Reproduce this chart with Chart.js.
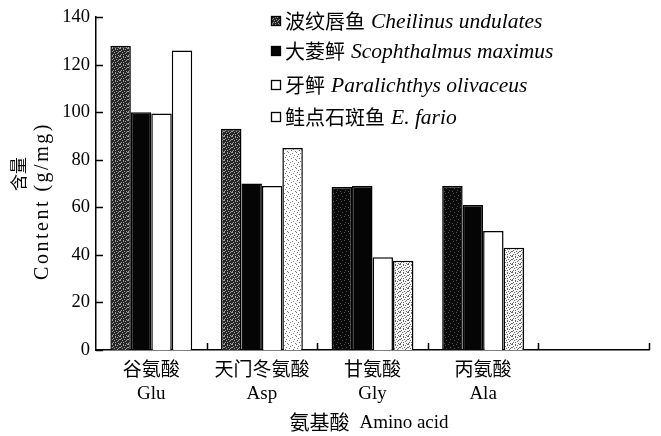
<!DOCTYPE html>
<html><head><meta charset="utf-8">
<script src="https://cdn.jsdelivr.net/npm/chart.js@4"></script>
<style>html,body{margin:0;padding:0;background:#fff;}#wrap{width:661px;height:436px;position:relative;}</style>
</head><body><div id="wrap"><canvas id="c" width="661" height="436" style="width:661px;height:436px"></canvas></div>
<script>
// ---- data ----
const categoriesCn = ['谷氨酸', '天门冬氨酸', '甘氨酸', '丙氨酸', ''];
const categoriesEn = ['Glu', 'Asp', 'Gly', 'Ala', ''];
const seriesCn = ['波纹唇鱼', '大菱鲆', '牙鲆', '鲑点石斑鱼'];
const seriesLatin = ['Cheilinus undulates', 'Scophthalmus maximus', 'Paralichthys olivaceus', 'E. fario'];
const cheilinus = [128, 93, 68.5, 69, null];
const scophthalmus = [100, 70, 69, 61, null];
const paralichthys = [99.5, 69, 39, 50, null];
const efario = [126, 85, 37.5, 43, null];
const yTicks = [0, 20, 40, 60, 80, 100, 120, 140];
const yTitleCn = '含量';
const yTitleEn = 'Content (g/mg)';
const xTitleCn = '氨基酸';
const xTitleEn = 'Amino acid';

// ---- styles ----
const SERIF = '"Liberation Serif", "Times New Roman", "Noto Sans CJK SC", serif';
const CJK = '"Noto Sans CJK SC", "Liberation Serif", sans-serif';
function makePattern(base, dot, tile) {
  const n = tile.length;
  const cv = document.createElement('canvas');
  cv.width = n; cv.height = n;
  const g = cv.getContext('2d');
  g.fillStyle = base; g.fillRect(0, 0, n, n);
  g.fillStyle = dot;
  tile.forEach((row, y) => { for (let x = 0; x < row.length; x++) if (row[x] === '#') g.fillRect(x, y, 1, 1); });
  return g.createPattern(cv, 'repeat');
}
const darkTile = ['#..#...#', '...#.#..', '.#......', '#...#..#', '..#...#.', '.....#..', '.#.#....', '#.....#.'];
const lightTile = ['#.......', '....#...', '..#.....', '......#.', '.#......', '.....#..', '...#....', '.......#'];
const darkPat = makePattern('#262626', '#9c9c9c', darkTile);
const darkerPat = makePattern('#0a0a0a', '#505050', ['#.......', '.....#..', '........', '..#.....', '......#.', '........', '.#......', '....#...']);
const lightPat = makePattern('#ffffff', '#7a7a7a', lightTile);
const lightDensePat = makePattern('#f4f4f4', '#6a6a6a', darkTile);

const s1Fill = [darkPat, darkPat, darkerPat, darkerPat, darkPat];
const s2Fill = '#050505';
const s3Fill = '#ffffff';
const s4Fill = ['#ffffff', lightPat, lightDensePat, lightDensePat, lightPat];

const labels = categoriesCn.map((c, i) => c ? [c, categoriesEn[i]] : '');

const decor = {
  id: 'decor',
  afterDraw(chart) {
    const ctx = chart.ctx;
    const x = chart.scales.x, y = chart.scales.y;
    const ca = chart.chartArea;
    ctx.save();
    ctx.strokeStyle = '#000'; ctx.lineWidth = 1.5;
    yTicks.forEach(v => {
      const py = Math.round(y.getPixelForValue(v)) + 0.5;
      ctx.beginPath(); ctx.moveTo(ca.left, py); ctx.lineTo(ca.left + 7, py); ctx.stroke();
    });
    const n = labels.length;
    const w = (x.getPixelForValue(1) - x.getPixelForValue(0));
    for (let i = 1; i <= n; i++) {
      const px = Math.round(x.getPixelForValue(i - 1) + w / 2) + 0.5;
      ctx.beginPath(); ctx.moveTo(px, ca.bottom); ctx.lineTo(px, ca.bottom - 7); ctx.stroke();
    }
    ctx.fillStyle = '#000';
    ctx.textAlign = 'center'; ctx.textBaseline = 'middle';
    // y title
    ctx.save(); ctx.translate(19, 174); ctx.rotate(-Math.PI / 2);
    ctx.font = '17px ' + CJK; ctx.fillText(yTitleCn, 0, 0); ctx.restore();
    ctx.save(); ctx.translate(43, 201); ctx.rotate(-Math.PI / 2);
    ctx.font = '20px ' + SERIF; ctx.letterSpacing = '2.5px'; ctx.fillText(yTitleEn, 0, 0); ctx.restore();
    // x title
    ctx.textAlign = 'left';
    ctx.font = '20px ' + CJK;
    const w1 = ctx.measureText(xTitleCn).width;
    ctx.font = '19px ' + SERIF;
    const w2 = ctx.measureText(xTitleEn).width;
    const gap = 10;
    const x0 = 369 - (w1 + gap + w2) / 2;
    ctx.font = '20px ' + CJK; ctx.fillText(xTitleCn, x0, 422);
    ctx.font = '19px ' + SERIF; ctx.fillText(xTitleEn, x0 + w1 + gap, 423);
    // legend
    const rows = [21, 51, 85, 117];
    const fills = [darkPat, '#050505', '#ffffff', '#ffffff'];
    chart.data.datasets.forEach((ds, i) => {
      const ry = rows[i];
      ctx.fillStyle = fills[i];
      ctx.fillRect(271, ry - 5, 10, 10);
      ctx.lineWidth = 1.3; ctx.strokeStyle = '#000';
      ctx.strokeRect(271.5, ry - 4.5, 9, 9);
      ctx.fillStyle = '#000';
      ctx.font = '20px ' + CJK;
      ctx.fillText(seriesCn[i], 285, ry);
      const cw = ctx.measureText(seriesCn[i]).width;
      ctx.font = 'italic 21.5px ' + SERIF;
      ctx.fillText(seriesLatin[i], 285 + cw + 6, ry + 1);
    });
    ctx.restore();
  }
};

new Chart(document.getElementById('c'), {
  type: 'bar',
  data: {
    labels: labels,
    datasets: [
      { label: seriesCn[0] + ' ' + seriesLatin[0], data: cheilinus, backgroundColor: s1Fill },
      { label: seriesCn[1] + ' ' + seriesLatin[1], data: scophthalmus, backgroundColor: s2Fill },
      { label: seriesCn[2] + ' ' + seriesLatin[2], data: paralichthys, backgroundColor: s3Fill },
      { label: seriesCn[3] + ' ' + seriesLatin[3], data: efario, backgroundColor: s4Fill }
    ].map(d => Object.assign(d, { borderColor: '#000', borderWidth: 1.5, categoryPercentage: 0.74, barPercentage: 1.0 }))
  },
  options: {
    responsive: false,
    animation: false,
    devicePixelRatio: 1,
    layout: { padding: { top: 17, right: 12, left: 0, bottom: 0 } },
    plugins: { legend: { display: false }, tooltip: { enabled: false }, title: { display: false } },
    scales: {
      x: {
        type: 'category',
        offset: true,
        grid: { display: false, drawTicks: false },
        border: { display: true, color: '#000', width: 1.5 },
        ticks: { color: '#000', font: { family: SERIF, size: 19, lineHeight: 1.22 }, padding: 9, maxRotation: 0, autoSkip: false },
        afterFit(s) { s.height = 86; }
      },
      y: {
        min: 0, max: 140,
        afterBuildTicks(s) { s.ticks = yTicks.map(v => ({ value: v })); },
        grid: { display: false, drawTicks: false },
        border: { display: true, color: '#000', width: 1.5 },
        ticks: { color: '#000', font: { family: SERIF, size: 18.5 }, padding: 6 },
        afterFit(s) { s.width = 96; }
      }
    }
  },
  plugins: [decor]
});
</script></body></html>
